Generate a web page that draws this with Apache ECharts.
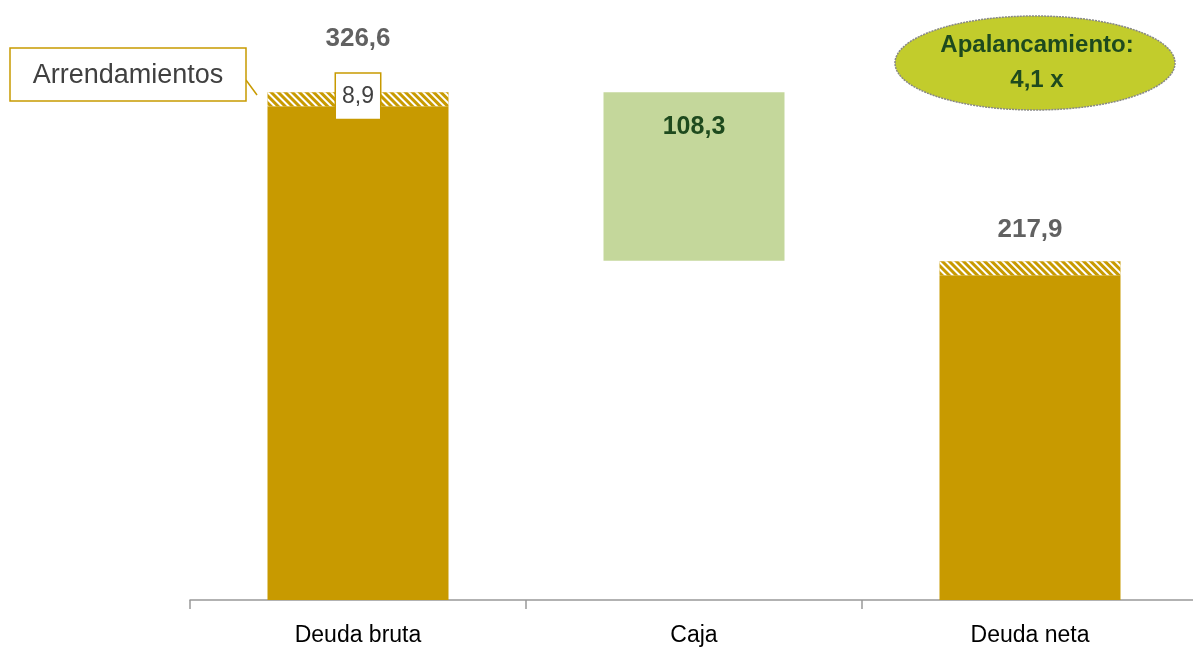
<!DOCTYPE html>
<html><head><meta charset="utf-8">
<script src="https://cdn.jsdelivr.net/npm/echarts@6/dist/echarts.min.js"></script>
<style>html,body{margin:0;padding:0;background:#fff}#c{width:1193px;height:649px}</style>
</head><body><div id="c"></div>
<script>
const categories = ['Deuda bruta', 'Caja', 'Deuda neta'];
const baseValues = [317.7, null, 209.0];       // solid gold part
const leaseValues = [8.9, null, 8.9];          // hatched "Arrendamientos" part
const cashOffset = [null, 218.3, null];        // invisible support for waterfall
const cashValues = [null, 108.3, null];        // Caja
const totals = [326.6, null, 217.9];
const leaseLabelShown = [true, false, false];
const fmt = v => v.toFixed(1).replace('.', ',');

const GOLD = '#c89a00';
const FONT = '"Liberation Sans Narrow", "Arial Narrow", "Liberation Sans", sans-serif';
const chart = echarts.init(document.getElementById('c'));
chart.setOption({
  animation: false,
  grid: { left: 190, width: 1008, top: 56, bottom: 49, outerBoundsMode: 'none', containLabel: false },
  xAxis: {
    type: 'category', data: categories,
    axisLine: { lineStyle: { color: '#999', width: 1.5 } },
    axisTick: { show: true, length: 9, lineStyle: { color: '#999', width: 1.5 } },
    axisLabel: { fontSize: 23, color: '#000', fontFamily: FONT, margin: 24 }
  },
  yAxis: { type: 'value', min: 0, max: 350, show: false, splitLine: { show: false } },
  series: [
    { type: 'bar', stack: 's', data: cashOffset, barWidth: 181,
      itemStyle: { color: 'transparent' } },
    { type: 'bar', stack: 's', data: cashValues, barWidth: 181,
      itemStyle: { color: '#c4d79b' },
      label: { show: true, position: 'insideTop', distance: 22, formatter: p => fmt(p.value),
        fontSize: 25, fontWeight: 'bold', color: '#1e4a1e', fontFamily: FONT } },
    { type: 'bar', stack: 's', data: baseValues, barWidth: 181,
      itemStyle: { color: GOLD } },
    { type: 'bar', stack: 's', barWidth: 181,
      data: leaseValues.map((v, i) => v == null ? null : { value: v, label: { show: leaseLabelShown[i] } }),
      itemStyle: { color: GOLD, decal: { symbol: 'rect', color: '#ffffff', dashArrayX: [1, 0], dashArrayY: [2, 3], rotation: Math.PI / 4, symbolSize: 1 } },
      label: { show: true, position: 'inside', offset: [0, -3], formatter: p => fmt(p.value),
        fontSize: 23, color: '#404040', fontFamily: FONT,
        backgroundColor: '#fff', borderColor: GOLD, borderWidth: 1.5, padding: [13, 6, 9, 6] } },
    { type: 'scatter', data: totals.map((v, i) => v == null ? null : { value: v,
        label: { distance: i === 0 ? 40 : 18 } }),
      symbolSize: 1, itemStyle: { color: 'transparent' },
      label: { show: true, position: 'top', formatter: p => fmt(p.value),
        fontSize: 26, fontWeight: 'bold', color: '#3a3a3a', fontFamily: FONT } }
  ],
  graphic: [
    { type: 'line', shape: { x1: 246, y1: 80, x2: 257, y2: 95 }, style: { stroke: GOLD, lineWidth: 1.5 } },
    { type: 'rect', shape: { x: 10, y: 48, width: 236, height: 53 },
      style: { fill: '#fff', stroke: GOLD, lineWidth: 1.5 } },
    { type: 'text', x: 128, y: 76, style: { text: 'Arrendamientos', fontSize: 27, fill: '#404040',
      fontFamily: '"Liberation Sans", Arial, sans-serif', align: 'center', verticalAlign: 'middle' } },
    { type: 'ellipse', shape: { cx: 1035, cy: 63, rx: 140, ry: 47 },
      style: { fill: '#c2cc2c', stroke: '#888', lineWidth: 1.5, lineDash: [2, 1] } },
    { type: 'text', x: 1037, y: 63, style: { text: 'Apalancamiento:\n4,1 x', fontSize: 24, fontWeight: 'bold',
      fill: '#1e4a1e', fontFamily: FONT, align: 'center', verticalAlign: 'middle', lineHeight: 35 } }
  ]
});
</script></body></html>
